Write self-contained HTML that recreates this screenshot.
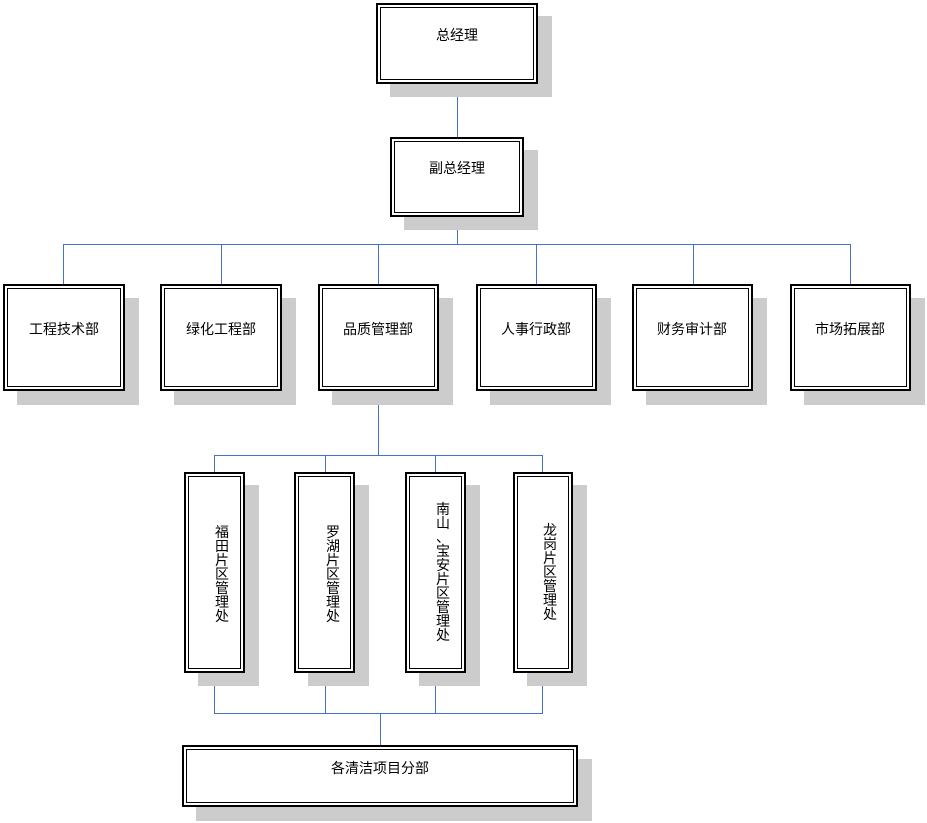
<!DOCTYPE html>
<html><head><meta charset="utf-8"><style>
body{margin:0;width:927px;height:823px;background:#fff;position:relative;overflow:hidden;font-family:"Liberation Sans","Noto Sans CJK SC","WenQuanYi Zen Hei",sans-serif;font-size:14px;color:#000}
.s{position:absolute;background:#cccccc}
.b{position:absolute;box-sizing:border-box;border:2px solid #000;background:#fff}
.b::after{content:"";position:absolute;left:2px;top:2px;right:2px;bottom:2px;border:1px solid #000}
.t{position:absolute;white-space:nowrap;transform:translate(-50%,-50%);line-height:14px}
.v{position:absolute;width:14px;line-height:14px;font-size:14px;text-align:center;transform:translateX(-50%)}
.l{position:absolute;background:#4472c4}
</style></head><body>
<!-- lines -->
<div class="l" style="left:457px;top:83px;width:1px;height:54px"></div>
<div class="l" style="left:457px;top:216px;width:1px;height:28px"></div>
<div class="l" style="left:63px;top:244px;width:788px;height:1px"></div>
<div class="l" style="left:63px;top:244px;width:1px;height:41px"></div>
<div class="l" style="left:221px;top:244px;width:1px;height:41px"></div>
<div class="l" style="left:378px;top:244px;width:1px;height:41px"></div>
<div class="l" style="left:536px;top:244px;width:1px;height:41px"></div>
<div class="l" style="left:693px;top:244px;width:1px;height:41px"></div>
<div class="l" style="left:850px;top:244px;width:1px;height:41px"></div>
<div class="l" style="left:378px;top:390px;width:1px;height:65px"></div>
<div class="l" style="left:214px;top:455px;width:329px;height:1px"></div>
<div class="l" style="left:214px;top:455px;width:1px;height:18px"></div>
<div class="l" style="left:325px;top:455px;width:1px;height:18px"></div>
<div class="l" style="left:435px;top:455px;width:1px;height:18px"></div>
<div class="l" style="left:542px;top:455px;width:1px;height:18px"></div>
<div class="l" style="left:214px;top:672px;width:1px;height:41px"></div>
<div class="l" style="left:325px;top:672px;width:1px;height:41px"></div>
<div class="l" style="left:435px;top:672px;width:1px;height:41px"></div>
<div class="l" style="left:542px;top:672px;width:1px;height:41px"></div>
<div class="l" style="left:214px;top:713px;width:329px;height:1px"></div>
<div class="l" style="left:380px;top:713px;width:1px;height:32px"></div>

<!-- top -->
<div class="s" style="left:390px;top:16px;width:162px;height:81px"></div>
<div class="b" style="left:376px;top:3px;width:162px;height:81px"></div>
<div class="t" style="left:457px;top:35px">总经理</div>
<div class="s" style="left:404px;top:150px;width:134px;height:80px"></div>
<div class="b" style="left:390px;top:137px;width:134px;height:80px"></div>
<div class="t" style="left:457px;top:168px">副总经理</div>

<!-- row -->
<div class="s" style="left:17px;top:298px;width:122px;height:107px"></div>
<div class="b" style="left:3px;top:284px;width:122px;height:107px"></div>
<div class="t" style="left:64px;top:329px">工程技术部</div>
<div class="s" style="left:174px;top:298px;width:122px;height:107px"></div>
<div class="b" style="left:160px;top:284px;width:122px;height:107px"></div>
<div class="t" style="left:221px;top:329px">绿化工程部</div>
<div class="s" style="left:332px;top:298px;width:121px;height:107px"></div>
<div class="b" style="left:318px;top:284px;width:121px;height:107px"></div>
<div class="t" style="left:378px;top:329px">品质管理部</div>
<div class="s" style="left:490px;top:298px;width:121px;height:107px"></div>
<div class="b" style="left:476px;top:284px;width:121px;height:107px"></div>
<div class="t" style="left:536px;top:329px">人事行政部</div>
<div class="s" style="left:646px;top:298px;width:121px;height:107px"></div>
<div class="b" style="left:632px;top:284px;width:121px;height:107px"></div>
<div class="t" style="left:692px;top:329px">财务审计部</div>
<div class="s" style="left:804px;top:298px;width:121px;height:107px"></div>
<div class="b" style="left:790px;top:284px;width:121px;height:107px"></div>
<div class="t" style="left:850px;top:329px">市场拓展部</div>

<!-- vertical -->
<div class="s" style="left:198px;top:485px;width:61px;height:201px"></div>
<div class="b" style="left:184px;top:472px;width:61px;height:201px"></div>
<div class="v" style="left:222px;top:525px">福<br>田<br>片<br>区<br>管<br>理<br>处</div>
<div class="s" style="left:308px;top:485px;width:61px;height:201px"></div>
<div class="b" style="left:294px;top:472px;width:61px;height:201px"></div>
<div class="v" style="left:333px;top:525px">罗<br>湖<br>片<br>区<br>管<br>理<br>处</div>
<div class="s" style="left:419px;top:485px;width:61px;height:201px"></div>
<div class="b" style="left:405px;top:472px;width:61px;height:201px"></div>
<div class="v" style="left:443px;top:502px">南<br>山<br>、<br>宝<br>安<br>片<br>区<br>管<br>理<br>处</div>
<div class="s" style="left:527px;top:485px;width:60px;height:201px"></div>
<div class="b" style="left:513px;top:472px;width:60px;height:201px"></div>
<div class="v" style="left:550px;top:523px">龙<br>岗<br>片<br>区<br>管<br>理<br>处</div>

<!-- bottom -->
<div class="s" style="left:196px;top:759px;width:396px;height:62px"></div>
<div class="b" style="left:182px;top:745px;width:396px;height:62px"></div>
<div class="t" style="left:380px;top:768px">各清洁项目分部</div>
</body></html>
